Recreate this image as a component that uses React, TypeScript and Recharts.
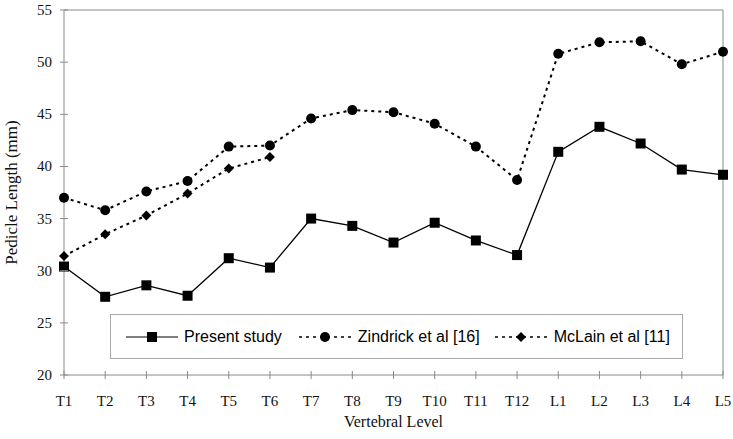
import React from 'react';
import { LineChart, Line, XAxis, YAxis, Legend, ReferenceLine, Label } from 'recharts';

const levels = ['T1','T2','T3','T4','T5','T6','T7','T8','T9','T10','T11','T12','L1','L2','L3','L4','L5'];
const presentStudy = [30.4, 27.5, 28.6, 27.6, 31.2, 30.3, 35.0, 34.3, 32.7, 34.6, 32.9, 31.5, 41.4, 43.8, 42.2, 39.7, 39.2];
const zindrick = [37.0, 35.8, 37.6, 38.6, 41.9, 42.0, 44.6, 45.4, 45.2, 44.1, 41.9, 38.7, 50.8, 51.9, 52.0, 49.8, 51.0];
const mclain: (number | null)[] = [31.4, 33.5, 35.3, 37.4, 39.8, 40.9, null, null, null, null, null, null, null, null, null, null, null];
const yTicks = [20, 25, 30, 35, 40, 45, 50, 55];
const seriesNames = ['Present study', 'Zindrick et al [16]', 'McLain et al [11]'];

const data = levels.map((lv, i) => ({
  level: lv,
  present: presentStudy[i],
  zindrick: zindrick[i],
  mclain: mclain[i],
}));

const SERIF = '"Liberation Serif", "Times New Roman", serif';
const SANS = '"Liberation Sans", Arial, sans-serif';
const AXIS = '#8a8a8a';

const SquareDot = (props: any) => {
  const { cx, cy } = props;
  if (cx == null || cy == null) return null;
  return <rect x={cx - 5} y={cy - 5} width={10} height={10} fill="#000" />;
};
const CircleDot = (props: any) => {
  const { cx, cy } = props;
  if (cx == null || cy == null) return null;
  return <circle cx={cx} cy={cy} r={5} fill="#000" />;
};
const DiamondDot = (props: any) => {
  const { cx, cy } = props;
  if (cx == null || cy == null) return null;
  const s = 5;
  return <polygon points={`${cx},${cy - s} ${cx + s},${cy} ${cx},${cy + s} ${cx - s},${cy}`} fill="#000" />;
};

const XTick = (props: any) => {
  const { x, y, payload } = props;
  return (
    <g>
      <line x1={x} x2={x} y1={y - 4} y2={y + 4} stroke={AXIS} strokeWidth={1} />
      <text x={x} y={y + 31} textAnchor="middle" fontFamily={SERIF} fontSize={15} fill="#111">{payload.value}</text>
    </g>
  );
};
const YTick = (props: any) => {
  const { x, y, payload } = props;
  return (
    <g>
      <line x1={x - 4} x2={x + 4} y1={y} y2={y} stroke={AXIS} strokeWidth={1} />
      <text x={x - 12} y={y + 5} textAnchor="end" fontFamily={SERIF} fontSize={15} fill="#111">{payload.value}</text>
    </g>
  );
};

const LegendIcon = ({ kind }: { kind: number }) => {
  return (
    <svg width={52} height={12} style={{ display: 'block' }}>
      {kind === 0 ? (
        <line x1={0} x2={52} y1={6} y2={6} stroke="#000" strokeWidth={1.2} />
      ) : (
        <line x1={0} x2={52} y1={6} y2={6} stroke="#000" strokeWidth={1.5} strokeDasharray="3 4" />
      )}
      {kind === 0 && <rect x={21} y={1} width={10} height={10} fill="#000" />}
      {kind === 1 && <circle cx={26} cy={6} r={5} fill="#000" />}
      {kind === 2 && <polygon points="26,1 31,6 26,11 21,6" fill="#000" />}
    </svg>
  );
};

const CustomLegend = () => (
  <div
    style={{
      width: 573,
      height: 45,
      boxSizing: 'border-box',
      border: '1px solid #aaa',
      display: 'flex',
      alignItems: 'center',
      paddingLeft: 15,
      background: '#fff',
      fontFamily: SANS,
      fontSize: 16,
      color: '#000',
    }}
  >
    {seriesNames.map((name, i) => (
      <div key={name} style={{ display: 'flex', alignItems: 'center', marginRight: i === 0 ? 17 : i === 1 ? 15 : 0 }}>
        <LegendIcon kind={i} />
        <span style={{ marginLeft: i === 0 ? 6 : 7, whiteSpace: 'nowrap' }}>{name}</span>
      </div>
    ))}
  </div>
);

export default function App() {
  return (
    <div style={{ position: 'absolute', left: 0, top: 0, width: 733, height: 439, background: '#fff' }}>
      <LineChart width={733} height={439} data={data} margin={{ top: 10, right: 10, bottom: 0, left: 0 }}>
        <ReferenceLine y={55} stroke={AXIS} strokeWidth={1} />
        <ReferenceLine x="L5" stroke={AXIS} strokeWidth={1} />
        <XAxis
          dataKey="level"
          height={64}
          axisLine={{ stroke: AXIS }}
          tickLine={false}
          tickSize={0}
          tickMargin={0}
          tick={<XTick />}
          interval={0}
        >
          <Label value="Vertebral Level" position="insideBottom" offset={12} style={{ fontFamily: SERIF, fontSize: 16, fill: '#111' }} />
        </XAxis>
        <YAxis
          width={64}
          domain={[20, 55]}
          ticks={yTicks}
          axisLine={{ stroke: AXIS }}
          tickLine={false}
          tickSize={0}
          tickMargin={0}
          tick={<YTick />}
          interval={0}
        >
          <Label value="Pedicle Length (mm)" angle={-90} position="center" dx={-21} style={{ fontFamily: SERIF, fontSize: 17, fill: '#111', textAnchor: 'middle' }} />
        </YAxis>
        <Legend
          layout="horizontal"
          verticalAlign="middle"
          align="center"
          content={<CustomLegend />}
          wrapperStyle={{ left: 110, top: 314, width: 573, height: 45 }}
        />
        <Line type="linear" dataKey="present" name={seriesNames[0]} stroke="#000" strokeWidth={1.3} dot={<SquareDot />} activeDot={false} isAnimationActive={false} />
        <Line type="linear" dataKey="zindrick" name={seriesNames[1]} stroke="#000" strokeWidth={2} strokeDasharray="3 4" dot={<CircleDot />} activeDot={false} isAnimationActive={false} />
        <Line type="linear" dataKey="mclain" name={seriesNames[2]} stroke="#000" strokeWidth={2} strokeDasharray="3 4" dot={<DiamondDot />} activeDot={false} isAnimationActive={false} connectNulls={false} />
      </LineChart>
    </div>
  );
}
